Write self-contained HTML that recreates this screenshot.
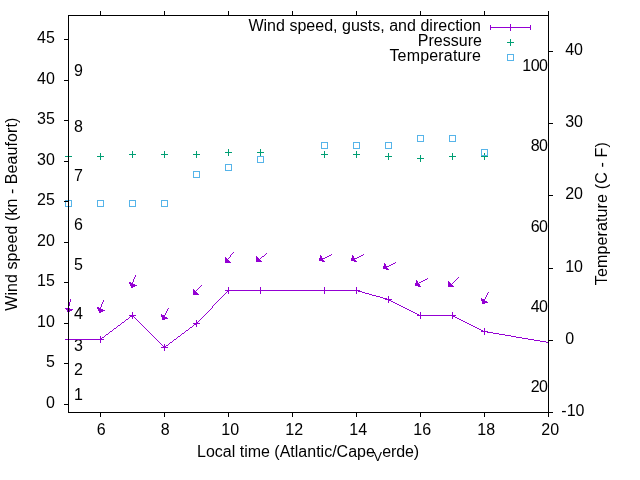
<!DOCTYPE html>
<html lang="en"><head><meta charset="utf-8"><title>Wind speed, gusts, and direction</title>
<style>html,body{margin:0;padding:0;background:#fff}svg{display:block}text{font-family:"Liberation Sans",Arial,sans-serif;font-size:16px;fill:#000}</style></head>
<body>
<svg width="640" height="480" viewBox="0 0 640 480">
<rect width="640" height="480" fill="#fff"/>
<g text-anchor="end">
<text x="54.8" y="407.8">0</text>
<text x="54.8" y="366.8">5</text>
<text x="54.8" y="326.8">10</text>
<text x="54.8" y="285.8">15</text>
<text x="54.8" y="245.8">20</text>
<text x="54.8" y="204.8">25</text>
<text x="54.8" y="164.8">30</text>
<text x="54.8" y="123.8">35</text>
<text x="54.8" y="83.8">40</text>
<text x="54.8" y="42.8">45</text>
</g>
<g text-anchor="start">
<text x="561.3" y="415.8">-10</text>
<text x="565.2" y="343.8">0</text>
<text x="565.2" y="271.8">10</text>
<text x="565.2" y="198.8">20</text>
<text x="565.2" y="126.8">30</text>
<text x="565.2" y="54.8">40</text>
</g>
<g text-anchor="middle">
<text x="101.2" y="435">6</text>
<text x="165.2" y="435">8</text>
<text x="230.2" y="435">10</text>
<text x="294.2" y="435">12</text>
<text x="358.2" y="435">14</text>
<text x="422.2" y="435">16</text>
<text x="486.2" y="435">18</text>
<text x="550.2" y="435">20</text>
</g>
<g text-anchor="start">
<text x="74" y="399.6">1</text>
<text x="74" y="375.3">2</text>
<text x="74" y="351.0">3</text>
<text x="74" y="318.6">4</text>
<text x="74" y="270.0">5</text>
<text x="74" y="229.5">6</text>
<text x="74" y="180.8">7</text>
<text x="74" y="132.2">8</text>
<text x="74" y="75.5">9</text>
</g>
<g text-anchor="end">
<text x="548" y="391.9" textLength="17.2">20</text>
<text x="548" y="311.7" textLength="17.2">40</text>
<text x="548" y="231.5" textLength="17.2">60</text>
<text x="548" y="151.3" textLength="17.2">80</text>
<text x="548" y="71.1" textLength="25.8">100</text>
</g>
<text text-anchor="middle" textLength="193" transform="translate(17 214.25) rotate(-90)">Wind speed (kn - Beaufort)</text>
<text text-anchor="middle" textLength="143" transform="translate(607.3 213.75) rotate(-90)">Temperature (C - F)</text>
<text x="197" y="457">Local time (Atlantic/Cape</text><text x="373.6" y="461" style="font-size:12.8px">V</text><text x="382.3" y="457" textLength="36.9">erde)</text>
<g text-anchor="end"><text x="481" y="30.8" textLength="232.6">Wind speed, gusts, and direction</text><text x="481.9" y="45.8">Pressure</text><text x="481" y="60.8" textLength="91.6">Temperature</text></g>
<g shape-rendering="crispEdges" fill="none" stroke-width="1">
<path stroke="#9400d3" d="M490 27.5H531M490.5 25V30M530.5 25V30M507.0 27.5H514.0M510.5 24.0V31.0"/>
<path stroke="#009e73" d="M507.0 42.5H514.0M510.5 39.0V46.0"/>
<path stroke="#56b4e9" d="M507.5 54.5H513.5V60.5H507.5Z"/>
<path fill="#9400d3" stroke="none" d="M233 252h1v1h-1zM232 253h1v1h-1zM266 253h1v1h-1zM231 254h1v1h-1zM265 254h1v1h-1zM331 254h1v1h-1zM363 254h1v1h-1zM230 255h1v1h-1zM264 255h1v1h-1zM320 255h1v1h-1zM329 255h2v1h-2zM352 255h1v1h-1zM361 255h2v1h-2zM230 256h1v1h-1zM256 256h1v1h-1zM262 256h2v1h-2zM320 256h2v1h-2zM327 256h2v1h-2zM352 256h2v1h-2zM359 256h2v1h-2zM225 257h1v1h-1zM229 257h1v1h-1zM256 257h2v1h-2zM261 257h1v1h-1zM320 257h2v1h-2zM325 257h2v1h-2zM352 257h2v1h-2zM357 257h2v1h-2zM225 258h2v1h-2zM228 258h1v1h-1zM256 258h3v1h-3zM260 258h1v1h-1zM319 258h6v1h-6zM351 258h6v1h-6zM225 259h3v1h-3zM256 259h4v1h-4zM319 259h4v1h-4zM351 259h4v1h-4zM225 260h4v1h-4zM256 260h5v1h-5zM319 260h5v1h-5zM351 260h5v1h-5zM225 261h5v1h-5zM256 261h6v1h-6zM322 261h3v1h-3zM354 261h3v1h-3zM225 262h6v1h-6zM395 262h1v1h-1zM384 263h1v1h-1zM393 263h2v1h-2zM384 264h2v1h-2zM391 264h2v1h-2zM384 265h2v1h-2zM389 265h2v1h-2zM383 266h6v1h-6zM383 267h4v1h-4zM383 268h5v1h-5zM386 269h3v1h-3zM135 275h1v1h-1zM135 276h1v1h-1zM134 277h1v1h-1zM458 277h1v1h-1zM134 278h1v1h-1zM427 278h1v1h-1zM457 278h1v1h-1zM133 279h1v1h-1zM425 279h2v1h-2zM456 279h1v1h-1zM133 280h1v1h-1zM416 280h1v1h-1zM423 280h2v1h-2zM455 280h1v1h-1zM133 281h1v1h-1zM416 281h2v1h-2zM421 281h2v1h-2zM448 281h1v1h-1zM454 281h1v1h-1zM129 282h2v1h-2zM132 282h1v1h-1zM416 282h2v1h-2zM419 282h2v1h-2zM448 282h2v1h-2zM453 282h1v1h-1zM129 283h4v1h-4zM415 283h4v1h-4zM448 283h3v1h-3zM452 283h1v1h-1zM130 284h5v1h-5zM415 284h5v1h-5zM448 284h4v1h-4zM130 285h7v1h-7zM201 285h1v1h-1zM415 285h5v1h-5zM448 285h5v1h-5zM131 286h4v1h-4zM200 286h1v1h-1zM418 286h3v1h-3zM448 286h6v1h-6zM131 287h2v1h-2zM199 287h1v1h-1zM228 287h1v1h-1zM260 287h1v1h-1zM324 287h1v1h-1zM356 287h1v1h-1zM198 288h1v1h-1zM228 288h1v1h-1zM260 288h1v1h-1zM324 288h1v1h-1zM356 288h1v1h-1zM193 289h1v1h-1zM197 289h1v1h-1zM228 289h1v1h-1zM260 289h1v1h-1zM324 289h1v1h-1zM356 289h1v1h-1zM193 290h2v1h-2zM196 290h1v1h-1zM225 290h135v1h-135zM193 291h3v1h-3zM227 291h2v1h-2zM260 291h1v1h-1zM324 291h1v1h-1zM356 291h1v1h-1zM358 291h4v1h-4zM193 292h4v1h-4zM226 292h1v1h-1zM228 292h1v1h-1zM260 292h1v1h-1zM324 292h1v1h-1zM356 292h1v1h-1zM362 292h3v1h-3zM488 292h1v1h-1zM193 293h5v1h-5zM225 293h1v1h-1zM228 293h1v1h-1zM260 293h1v1h-1zM324 293h1v1h-1zM356 293h1v1h-1zM365 293h4v1h-4zM487 293h1v1h-1zM193 294h6v1h-6zM224 294h1v1h-1zM369 294h3v1h-3zM487 294h1v1h-1zM223 295h1v1h-1zM372 295h4v1h-4zM486 295h1v1h-1zM222 296h1v1h-1zM376 296h4v1h-4zM388 296h1v1h-1zM486 296h1v1h-1zM221 297h1v1h-1zM380 297h3v1h-3zM388 297h1v1h-1zM485 297h1v1h-1zM220 298h1v1h-1zM383 298h4v1h-4zM388 298h1v1h-1zM481 298h1v1h-1zM485 298h1v1h-1zM70 299h1v1h-1zM219 299h1v1h-1zM385 299h7v1h-7zM481 299h4v1h-4zM70 300h1v1h-1zM103 300h1v1h-1zM218 300h1v1h-1zM388 300h3v1h-3zM481 300h4v1h-4zM70 301h1v1h-1zM103 301h1v1h-1zM217 301h1v1h-1zM388 301h1v1h-1zM391 301h2v1h-2zM482 301h5v1h-5zM69 302h1v1h-1zM102 302h1v1h-1zM216 302h1v1h-1zM388 302h1v1h-1zM393 302h2v1h-2zM482 302h6v1h-6zM69 303h1v1h-1zM102 303h1v1h-1zM215 303h1v1h-1zM395 303h2v1h-2zM482 303h3v1h-3zM69 304h1v1h-1zM101 304h1v1h-1zM214 304h1v1h-1zM397 304h2v1h-2zM69 305h1v1h-1zM101 305h1v1h-1zM213 305h1v1h-1zM399 305h2v1h-2zM68 306h1v1h-1zM101 306h1v1h-1zM212 306h1v1h-1zM401 306h2v1h-2zM68 307h1v1h-1zM97 307h2v1h-2zM100 307h1v1h-1zM212 307h1v1h-1zM403 307h2v1h-2zM65 308h5v1h-5zM97 308h4v1h-4zM168 308h1v1h-1zM211 308h1v1h-1zM405 308h2v1h-2zM66 309h7v1h-7zM98 309h5v1h-5zM167 309h1v1h-1zM210 309h1v1h-1zM407 309h2v1h-2zM67 310h5v1h-5zM98 310h7v1h-7zM167 310h1v1h-1zM209 310h1v1h-1zM409 310h2v1h-2zM67 311h3v1h-3zM99 311h4v1h-4zM166 311h1v1h-1zM208 311h1v1h-1zM411 311h2v1h-2zM68 312h1v1h-1zM99 312h2v1h-2zM132 312h1v1h-1zM166 312h1v1h-1zM207 312h1v1h-1zM413 312h2v1h-2zM420 312h1v1h-1zM452 312h1v1h-1zM132 313h1v1h-1zM165 313h1v1h-1zM206 313h1v1h-1zM415 313h2v1h-2zM420 313h1v1h-1zM452 313h1v1h-1zM132 314h1v1h-1zM161 314h1v1h-1zM165 314h1v1h-1zM205 314h1v1h-1zM417 314h2v1h-2zM420 314h1v1h-1zM452 314h1v1h-1zM129 315h7v1h-7zM161 315h4v1h-4zM204 315h1v1h-1zM417 315h39v1h-39zM130 316h4v1h-4zM161 316h4v1h-4zM203 316h1v1h-1zM420 316h1v1h-1zM452 316h3v1h-3zM129 317h1v1h-1zM132 317h1v1h-1zM134 317h1v1h-1zM162 317h5v1h-5zM202 317h1v1h-1zM420 317h1v1h-1zM452 317h1v1h-1zM455 317h2v1h-2zM128 318h1v1h-1zM132 318h1v1h-1zM135 318h1v1h-1zM162 318h6v1h-6zM201 318h1v1h-1zM420 318h1v1h-1zM452 318h1v1h-1zM457 318h2v1h-2zM126 319h2v1h-2zM136 319h1v1h-1zM162 319h3v1h-3zM200 319h1v1h-1zM459 319h2v1h-2zM125 320h1v1h-1zM137 320h1v1h-1zM196 320h1v1h-1zM199 320h1v1h-1zM461 320h2v1h-2zM124 321h1v1h-1zM138 321h1v1h-1zM196 321h1v1h-1zM198 321h1v1h-1zM463 321h2v1h-2zM122 322h2v1h-2zM139 322h1v1h-1zM196 322h2v1h-2zM465 322h2v1h-2zM121 323h1v1h-1zM140 323h1v1h-1zM193 323h7v1h-7zM467 323h2v1h-2zM120 324h1v1h-1zM141 324h1v1h-1zM194 324h3v1h-3zM469 324h2v1h-2zM118 325h2v1h-2zM142 325h1v1h-1zM193 325h1v1h-1zM196 325h1v1h-1zM471 325h2v1h-2zM117 326h1v1h-1zM143 326h1v1h-1zM192 326h1v1h-1zM196 326h1v1h-1zM473 326h2v1h-2zM116 327h1v1h-1zM144 327h1v1h-1zM190 327h2v1h-2zM475 327h2v1h-2zM114 328h2v1h-2zM145 328h1v1h-1zM189 328h1v1h-1zM477 328h2v1h-2zM484 328h1v1h-1zM113 329h1v1h-1zM146 329h1v1h-1zM188 329h1v1h-1zM479 329h2v1h-2zM484 329h1v1h-1zM112 330h1v1h-1zM147 330h1v1h-1zM186 330h2v1h-2zM481 330h2v1h-2zM484 330h1v1h-1zM110 331h2v1h-2zM148 331h1v1h-1zM185 331h1v1h-1zM481 331h7v1h-7zM109 332h1v1h-1zM149 332h1v1h-1zM184 332h1v1h-1zM484 332h1v1h-1zM487 332h6v1h-6zM108 333h1v1h-1zM150 333h1v1h-1zM182 333h2v1h-2zM484 333h1v1h-1zM493 333h6v1h-6zM106 334h2v1h-2zM151 334h1v1h-1zM181 334h1v1h-1zM484 334h1v1h-1zM499 334h6v1h-6zM105 335h1v1h-1zM152 335h1v1h-1zM180 335h1v1h-1zM505 335h6v1h-6zM68 336h1v1h-1zM100 336h1v1h-1zM104 336h1v1h-1zM153 336h1v1h-1zM178 336h2v1h-2zM511 336h5v1h-5zM68 337h1v1h-1zM100 337h1v1h-1zM102 337h2v1h-2zM154 337h1v1h-1zM177 337h1v1h-1zM516 337h6v1h-6zM68 338h1v1h-1zM100 338h2v1h-2zM155 338h1v1h-1zM176 338h1v1h-1zM522 338h6v1h-6zM65 339h39v1h-39zM156 339h1v1h-1zM174 339h2v1h-2zM528 339h6v1h-6zM68 340h1v1h-1zM100 340h1v1h-1zM157 340h1v1h-1zM173 340h1v1h-1zM534 340h6v1h-6zM68 341h1v1h-1zM100 341h1v1h-1zM158 341h1v1h-1zM172 341h1v1h-1zM540 341h6v1h-6zM68 342h1v1h-1zM100 342h1v1h-1zM159 342h1v1h-1zM170 342h2v1h-2zM546 342h3v1h-3zM160 343h1v1h-1zM169 343h1v1h-1zM161 344h1v1h-1zM164 344h1v1h-1zM168 344h1v1h-1zM162 345h1v1h-1zM164 345h1v1h-1zM166 345h2v1h-2zM163 346h3v1h-3zM161 347h7v1h-7zM164 348h1v1h-1zM164 349h1v1h-1zM164 350h1v1h-1z"/>
<path stroke="#009e73" d="M65.0 156.5H72.0M68.5 153.0V160.0M97.0 156.5H104.0M100.5 153.0V160.0M129.0 154.5H136.0M132.5 151.0V158.0M161.0 154.5H168.0M164.5 151.0V158.0M193.0 154.5H200.0M196.5 151.0V158.0M225.0 152.5H232.0M228.5 149.0V156.0M257.0 152.5H264.0M260.5 149.0V156.0M321.0 154.5H328.0M324.5 151.0V158.0M353.0 154.5H360.0M356.5 151.0V158.0M385.0 156.5H392.0M388.5 153.0V160.0M417.0 158.5H424.0M420.5 155.0V162.0M449.0 156.5H456.0M452.5 153.0V160.0M481.0 156.5H488.0M484.5 153.0V160.0"/>
<path stroke="#56b4e9" d="M65.5 200.5H71.5V206.5H65.5ZM97.5 200.5H103.5V206.5H97.5ZM129.5 200.5H135.5V206.5H129.5ZM161.5 200.5H167.5V206.5H161.5ZM193.5 171.5H199.5V177.5H193.5ZM225.5 164.5H231.5V170.5H225.5ZM257.5 156.5H263.5V162.5H257.5ZM321.5 142.5H327.5V148.5H321.5ZM353.5 142.5H359.5V148.5H353.5ZM385.5 142.5H391.5V148.5H385.5ZM417.5 135.5H423.5V141.5H417.5ZM449.5 135.5H455.5V141.5H449.5ZM481.5 149.5H487.5V155.5H481.5Z"/>
</g>
<g stroke="#000" stroke-width="1" fill="none" shape-rendering="crispEdges">
<path d="M68.5 404.5H64M68.5 363.5H64M68.5 323.5H64M68.5 282.5H64M68.5 242.5H64M68.5 201.5H64M68.5 161.5H64M68.5 120.5H64M68.5 80.5H64M68.5 39.5H64M548.5 412.5H553M548.5 340.5H553M548.5 268.5H553M548.5 195.5H553M548.5 123.5H553M548.5 51.5H553M100.5 412.5V417M100.5 15.5V11M164.5 412.5V417M164.5 15.5V11M228.5 412.5V417M228.5 15.5V11M292.5 412.5V417M292.5 15.5V11M356.5 412.5V417M356.5 15.5V11M420.5 412.5V417M420.5 15.5V11M484.5 412.5V417M484.5 15.5V11M548.5 412.5V417M548.5 15.5V11"/>
<rect x="68.5" y="15.5" width="480.0" height="397.0"/>
</g>
</svg>
</body></html>
